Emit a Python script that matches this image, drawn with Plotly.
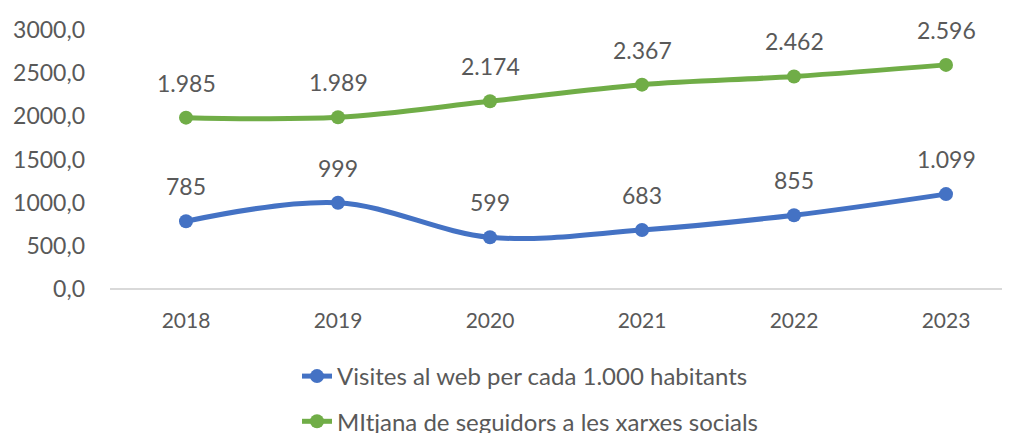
import plotly.graph_objects as go

years = ["2018", "2019", "2020", "2021", "2022", "2023"]
visites = [785, 999, 599, 683, 855, 1099]
seguidors = [1985, 1989, 2174, 2367, 2462, 2596]
visites_labels = ["785", "999", "599", "683", "855", "1.099"]
seguidors_labels = ["1.985", "1.989", "2.174", "2.367", "2.462", "2.596"]
name_visites = "Visites al web per cada 1.000 habitants"
name_seguidors = "MItjana de seguidors a les xarxes socials"
y_ticks = [0, 500, 1000, 1500, 2000, 2500, 3000]
y_ticktext = ["0,0", "500,0", "1000,0", "1500,0", "2000,0", "2500,0", "3000,0"]

BLUE = "#4472C4"
GREEN = "#70AD47"
GRAY = "#595959"
FONT = "Lato, 'Open Sans', sans-serif"

fig = go.Figure()
for name, vals, col, grp in [(name_visites, visites, BLUE, "a"), (name_seguidors, seguidors, GREEN, "b")]:
    fig.add_trace(go.Scatter(
        x=list(range(len(years))), y=vals, name=name, legendgroup=grp,
        mode="lines+markers",
        line=dict(color=col, width=5, shape="spline", smoothing=1.0),
        marker=dict(color=col, size=14),
    ))

annotations = []
for vals, labs in [(visites, visites_labels), (seguidors, seguidors_labels)]:
    for i, (v, t) in enumerate(zip(vals, labs)):
        annotations.append(dict(x=i, y=v, text=t, showarrow=False, yshift=35,
                                font=dict(family=FONT, size=23, color=GRAY)))

fig.update_layout(
    width=1010, height=433,
    margin=dict(l=102, r=0, t=22, b=152, autoexpand=False),
    paper_bgcolor="white", plot_bgcolor="white",
    font=dict(family=FONT, color=GRAY),
    annotations=annotations,
    showlegend=True,
    legend=dict(
        orientation="v", xref="container", yref="container",
        x=289 / 1010, xanchor="left", y=1 - 346 / 433, yanchor="top",
        font=dict(family=FONT, size=24, color=GRAY),
        tracegroupgap=11, bgcolor="rgba(0,0,0,0)",
    ),
    xaxis=dict(
        range=[-0.5, -0.5 + 908 / 152], tickmode="array",
        tickvals=list(range(len(years))), ticktext=years,
        showgrid=False, zeroline=False, showline=False,
        tickfont=dict(family=FONT, size=21, color=GRAY),
        ticks="", ticklabelstandoff=17,
    ),
    yaxis=dict(
        range=[0, 3000], tickmode="array", tickvals=y_ticks, ticktext=y_ticktext,
        showgrid=False, zeroline=True, zerolinecolor="#D9D9D9", zerolinewidth=1.5,
        showline=False, ticks="", ticklabelstandoff=24,
        tickfont=dict(family=FONT, size=23, color=GRAY),
    ),
)

fig.write_html("out.html")
